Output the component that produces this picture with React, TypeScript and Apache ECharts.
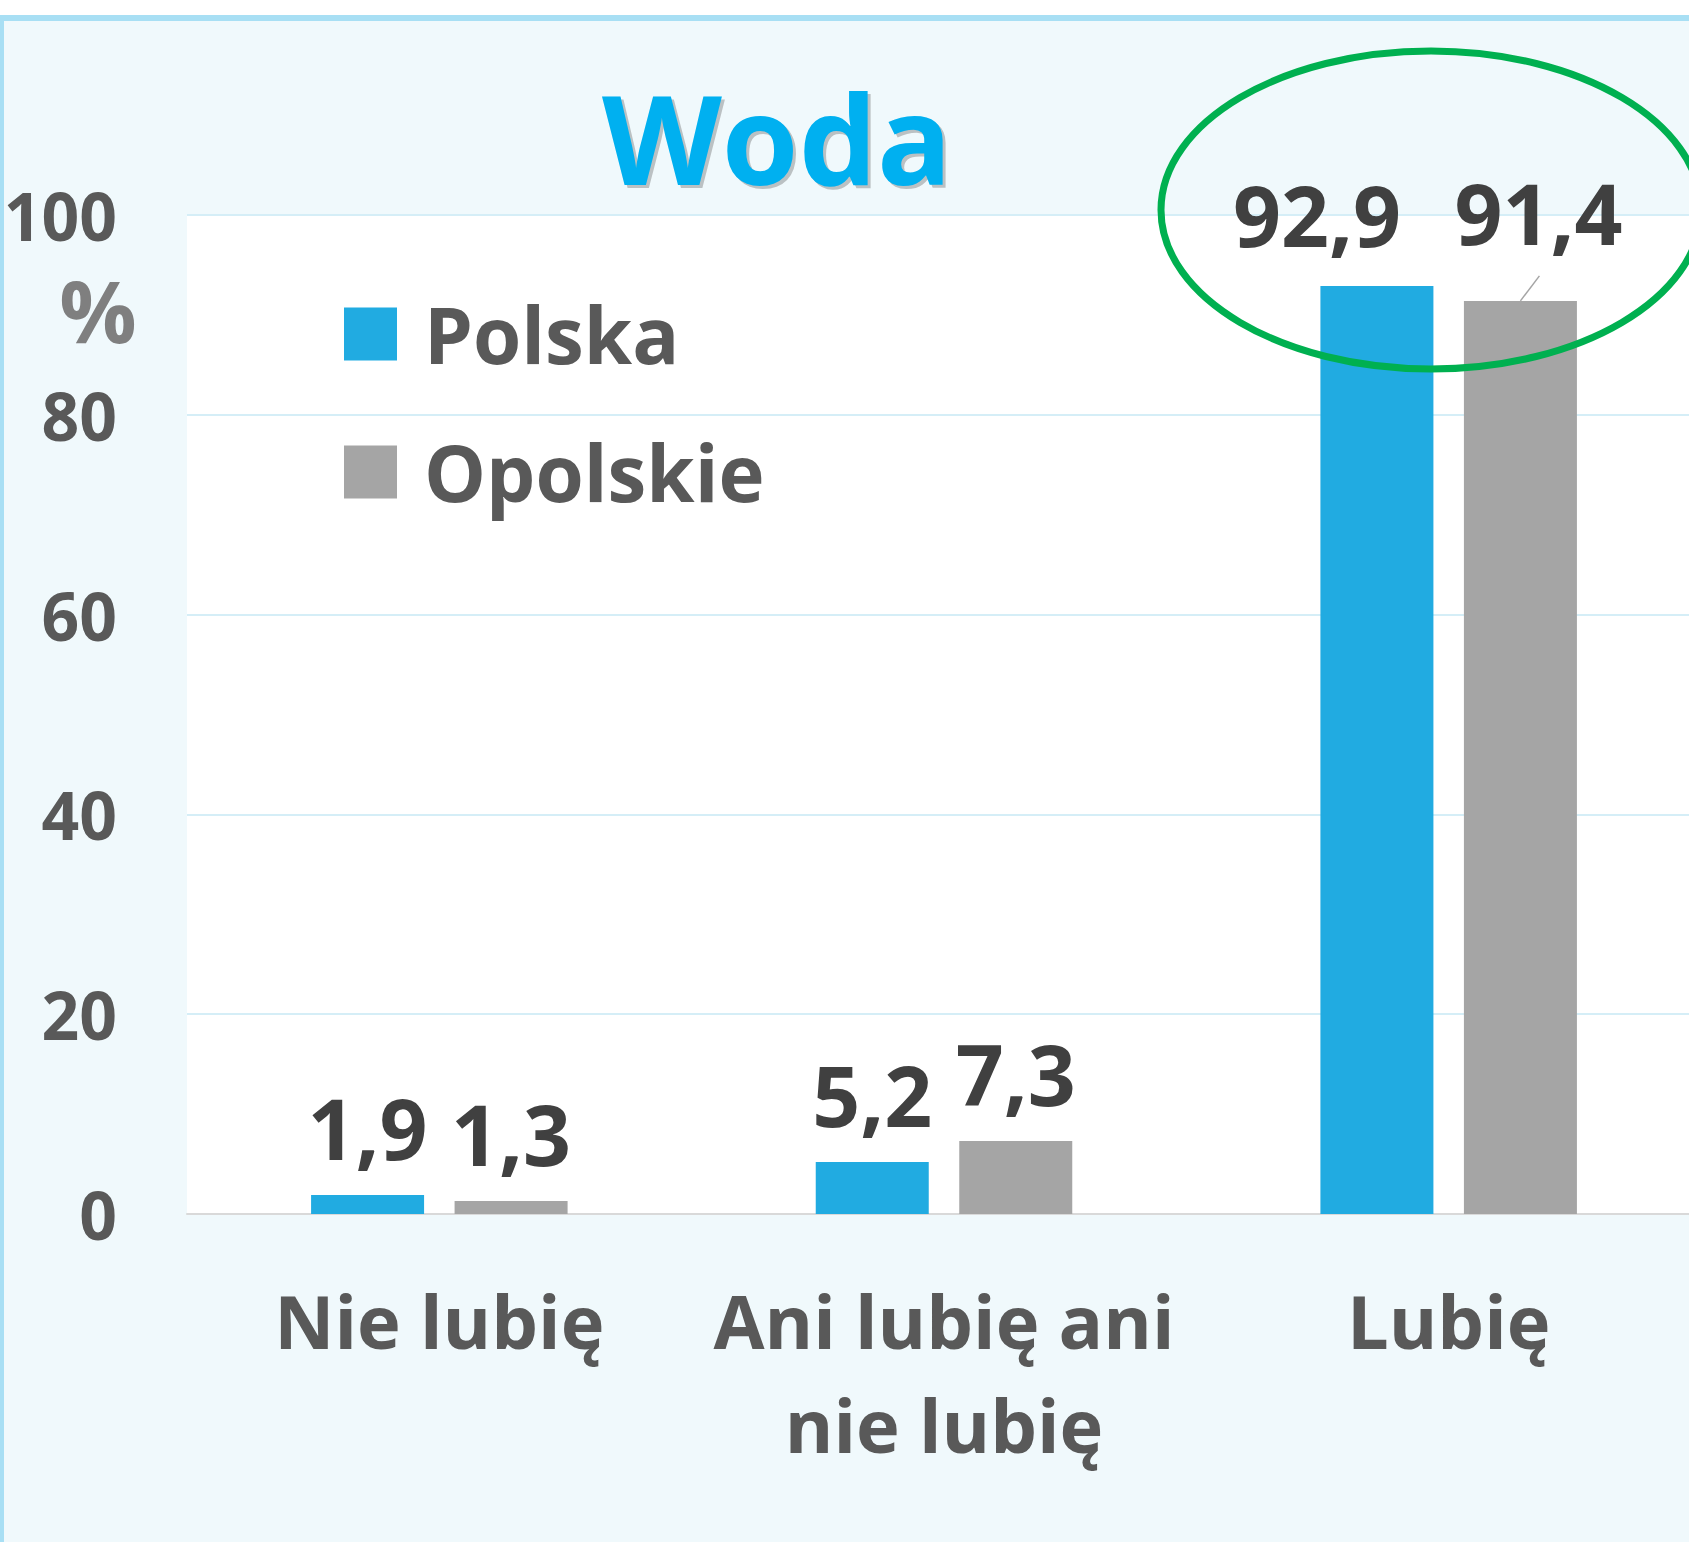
import React, { useEffect, useRef } from "react";
import * as echarts from "echarts";

const categories = ["Nie lubię", "Ani lubię ani\nnie lubię", "Lubię"];
const polska = [1.9, 5.2, 92.9];
const opolskie = [1.3, 7.3, 91.4];
const seriesNames = ["Polska", "Opolskie"];
const yMin = 0;
const yMax = 100;
const yStep = 20;
const title = "Woda";
const unit = "%";

const FONT = "'Open Sans', 'Noto Sans', sans-serif";

export default function App() {
  const ref = useRef<HTMLDivElement>(null);
  useEffect(() => {
    document.body.style.margin = "0";
    if (!ref.current) return;
    const chart = echarts.init(ref.current, null, { renderer: "svg" });
    const fmt = (p: any) => String(p.value).replace(".", ",");
    const labelStyle = {
      show: true,
      position: "top",
      distance: 26,
      fontFamily: FONT,
      fontWeight: "bold",
      fontSize: 84,
      color: "#404040",
      formatter: fmt,
    };
    const titleStyle = {
      text: title,
      fontFamily: FONT,
      fontWeight: "bold",
      fontSize: 124,
      textAlign: "center",
      verticalAlign: "middle",
    };
    const graphics: any[] = [
      {
        type: "text",
        x: 780,
        y: 139,
        z: 49,
        style: { ...titleStyle, fill: "rgba(90,90,90,0.35)" },
      },
      {
        type: "text",
        x: 777,
        y: 136,
        z: 50,
        style: { ...titleStyle, fill: "#00b0f0" },
      },
      {
        type: "text",
        x: 98,
        y: 309,
        z: 50,
        style: {
          text: unit,
          fontFamily: FONT,
          fontWeight: "bold",
          fontSize: 86,
          fill: "#7f7f7f",
          textAlign: "center",
          verticalAlign: "middle",
        },
      },
      {
        type: "ellipse",
        z: 100,
        shape: { cx: 1431, cy: 210, rx: 270, ry: 159 },
        style: { fill: "none", stroke: "#00b050", lineWidth: 7 },
      },
    ];
    chart.setOption({
      animation: false,
      backgroundColor: "transparent",
      grid: {
        left: 187,
        top: 215,
        width: 1514,
        height: 999,
        show: true,
        backgroundColor: "#ffffff",
        borderWidth: 0,
      },
      legend: {
        orient: "vertical",
        left: 344,
        top: 290,
        padding: 0,
        itemWidth: 53,
        itemHeight: 53,
        itemGap: 50,
        icon: "rect",
        data: seriesNames,
        textStyle: {
          fontFamily: FONT,
          fontWeight: "bold",
          fontSize: 78,
          lineHeight: 80,
          color: "#595959",
          padding: [0, 0, 8, 22],
        },
      },
      xAxis: {
        type: "category",
        data: categories,
        axisLine: { show: true, lineStyle: { color: "#d9d9d9", width: 2 } },
        axisTick: { show: false },
        axisLabel: {
          interval: 0,
          margin: 54,
          fontFamily: FONT,
          fontWeight: "bold",
          fontSize: 74,
          lineHeight: 104,
          color: "#595959",
        },
      },
      yAxis: {
        type: "value",
        min: yMin,
        max: yMax,
        interval: yStep,
        axisLine: { show: false },
        axisTick: { show: false },
        splitLine: { lineStyle: { color: "#d5eef7", width: 2 } },
        axisLabel: {
          margin: 70,
          fontFamily: FONT,
          fontWeight: "bold",
          fontSize: 66,
          color: "#595959",
        },
      },
      series: [
        {
          name: seriesNames[0],
          type: "bar",
          data: polska,
          barWidth: 113,
          barGap: "27%",
          itemStyle: { color: "#21abe1" },
          label: labelStyle,
          labelLayout: (params: any) =>
            params.dataIndex === 2 ? { dx: -60, dy: -3 } : {},
        },
        {
          name: seriesNames[1],
          type: "bar",
          data: opolskie,
          barWidth: 113,
          barGap: "27%",
          itemStyle: { color: "#a5a5a5" },
          label: labelStyle,
          labelLayout: (params: any) =>
            params.dataIndex === 2 ? { dx: 18, dy: -20 } : {},
        },
      ],
      graphic: graphics,
    });

    // leader line for the moved "91,4" label, anchored on the bar's own layout
    try {
      const model: any = (chart as any).getModel();
      const data = model.getSeriesByIndex(1).getData();
      const lay = data.getItemLayout(2);
      if (lay) {
        const cx = lay.x + lay.width / 2;
        const topY = Math.min(lay.y, lay.y + lay.height);
        chart.setOption({
          graphic: [
            ...graphics,
            {
              type: "line",
              z: 60,
              shape: { x1: cx, y1: topY, x2: cx + 19, y2: topY - 25 },
              style: { stroke: "#a5a5a5", lineWidth: 1.5 },
            },
          ],
        });
      }
    } catch (e) {
      // ignore
    }
    return () => chart.dispose();
  }, []);
  return (
    <div
      style={{
        position: "relative",
        width: 1689,
        height: 1542,
        overflow: "hidden",
        background: "#ffffff",
      }}
    >
      <div
        style={{
          position: "absolute",
          left: 0,
          top: 15,
          width: 1800,
          height: 1700,
          boxSizing: "border-box",
          borderTop: "6px solid #a8dff4",
          borderLeft: "4px solid #a8dff4",
          background: "#f0f9fc",
        }}
      />
      <div
        ref={ref}
        style={{ position: "absolute", left: 0, top: 0, width: 1740, height: 1542 }}
      />
    </div>
  );
}
